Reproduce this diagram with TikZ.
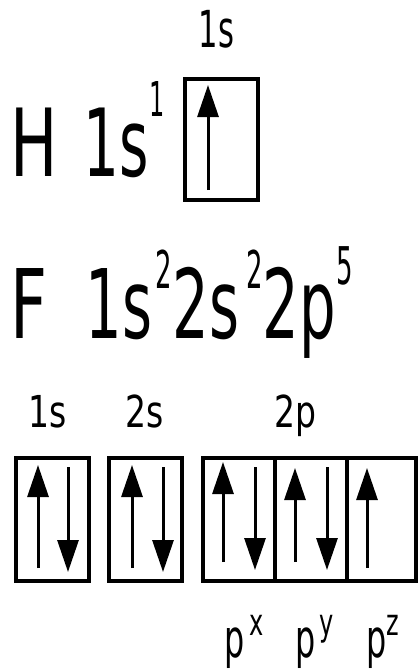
\documentclass[tikz,border=0pt]{standalone}
\usepackage{fontspec}
\usepackage{graphicx}
\setmainfont{DejaVu Sans}
\usetikzlibrary{arrows.meta}
\newcommand\sqz[3]{\fontsize{#1}{#1}\selectfont\scalebox{#2}[1]{#3}}
\tikzset{
  txt/.style={inner sep=0pt, outer sep=0pt, anchor=base west},
  orb/.style={line width=4pt, draw=black},
  spin/.style={line width=3pt, -{Triangle[width=21pt,length=32pt]}}
}
\begin{document}
\begin{tikzpicture}[x=1pt,y=-1pt]
\useasboundingbox (0,0) rectangle (418,670);
% Hydrogen
\node[txt] (h1s) at (198.6,47) {\sqz{51}{0.6}{1s}};
\node[txt] (H) at (10,176) {\sqz{94}{0.67}{H}};
\node[txt] (hconf) at (83.8,176) {\sqz{94}{0.6}{1s}};
\node[txt] (hsup) at (149.6,116) {\sqz{48}{0.5}{1}};
\draw[orb] (185,79) rectangle (258,200);
\coordinate (hA) at (208,190); \coordinate (hB) at (208,85);
\draw[spin] (hA) -- (hB);
% Fluorine
\node[txt] (F) at (10,338) {\sqz{96}{0.67}{F}};
\node[txt] (f1) at (85.7,338) {\sqz{96}{0.6}{1s}};
\node[txt] (f1s) at (155.1,288) {\sqz{52}{0.5}{2}};
\node[txt] (f2) at (172.8,338) {\sqz{96}{0.6}{2s}};
\node[txt] (f2s) at (246.1,288) {\sqz{52}{0.5}{2}};
\node[txt] (f3) at (262.8,338) {\sqz{96}{0.6}{2p}};
\node[txt] (f3s) at (336.2,284) {\sqz{52}{0.5}{5}};
% labels
\node[txt] (l1s) at (28.4,427) {\sqz{44}{0.75}{1s}};
\node[txt] (l2s) at (125.6,427) {\sqz{44}{0.75}{2s}};
\node[txt] (l2p) at (274.6,427) {\sqz{44}{0.75}{2p}};
% boxes
\draw[orb] (16,458) rectangle (89,581);
\draw[orb] (109,458) rectangle (182,581);
\draw[orb] (203,458) rectangle (416,581);
\draw[orb] (275,458) -- (275,581);
\draw[orb] (347,458) -- (347,581);
% spins
\draw[spin] (38,568) -- (38,465);
\draw[spin] (68,467) -- (68,572);
\draw[spin] (132,568) -- (132,465);
\draw[spin] (163,467) -- (163,572);
\draw[spin] (223,562) -- (223,462);
\draw[spin] (255,467) -- (255,570);
\draw[spin] (295,562) -- (295,468);
\draw[spin] (327,467) -- (327,570);
\draw[spin] (367,568) -- (367,468);
% p labels
\node[txt] (px) at (224.1,657) {\sqz{53}{0.6}{p}};
\node[txt] (pxs) at (249,635) {\sqz{37}{0.65}{x}};
\node[txt] (py) at (295.1,657) {\sqz{53}{0.6}{p}};
\node[txt] (pys) at (319,635) {\sqz{37}{0.65}{y}};
\node[txt] (pz) at (366.1,657) {\sqz{53}{0.6}{p}};
\node[txt] (pzs) at (386.6,635) {\sqz{37}{0.65}{z}};
\end{tikzpicture}
\end{document}
